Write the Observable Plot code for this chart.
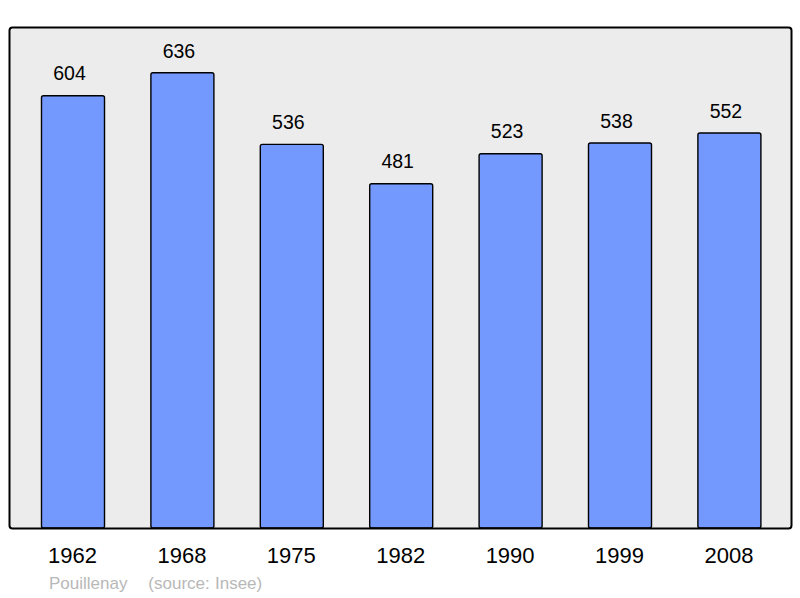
<!DOCTYPE html>
<html>
<head>
<meta charset="utf-8">
<script src="https://cdn.jsdelivr.net/npm/d3@7"></script>
<script src="https://cdn.jsdelivr.net/npm/@observablehq/plot@0.6"></script>
<style>
  body { margin: 0; background: #fff; font-family: "Liberation Sans", Arial, sans-serif; }
  #caption { height: 28px; line-height: 28px; font-size: 17px; color: #b8b8b8; padding-left: 49px; white-space: pre; word-spacing: 0.5px; }
</style>
</head>
<body>
<div id="chart"></div>
<div id="caption"></div>
<script>
const years = ["1962", "1968", "1975", "1982", "1990", "1999", "2008"];
const population = [604, 636, 536, 481, 523, 538, 552];
const captionText = "Pouillenay    (source: Insee)";

const data = years.map((y, i) => ({year: y, value: population[i]}));

const chart = Plot.plot({
  width: 800,
  height: 570,
  marginTop: 27,
  marginBottom: 42,
  marginLeft: 9,
  marginRight: 9,
  style: {fontFamily: "'Liberation Sans', Arial, sans-serif", background: "#fff"},
  x: {domain: years, range: [18.3, 784.1], paddingInner: 0.424, paddingOuter: 0.212, round: false, label: null},
  y: {domain: [0, 700], axis: null},
  marks: [
    Plot.frame({fill: "#ececec", stroke: null, rx: 3}),
    Plot.barY(data, {x: "year", y: "value", fill: "#7399ff", stroke: "#000", strokeWidth: 1.4, rx: 2}),
    Plot.text(data, {x: "year", y: "value", text: d => String(d.value), dy: -22, dx: -4, fontSize: 19.5, fill: "#000"}),
    Plot.frame({stroke: "#000", strokeWidth: 2, rx: 3}),
    Plot.axisX({tickSize: 0, tickPadding: 19, dx: -1, fontSize: 22, fill: "#000", label: null})
  ]
});
document.getElementById("chart").appendChild(chart);
document.getElementById("caption").textContent = captionText;
</script>
</body>
</html>
